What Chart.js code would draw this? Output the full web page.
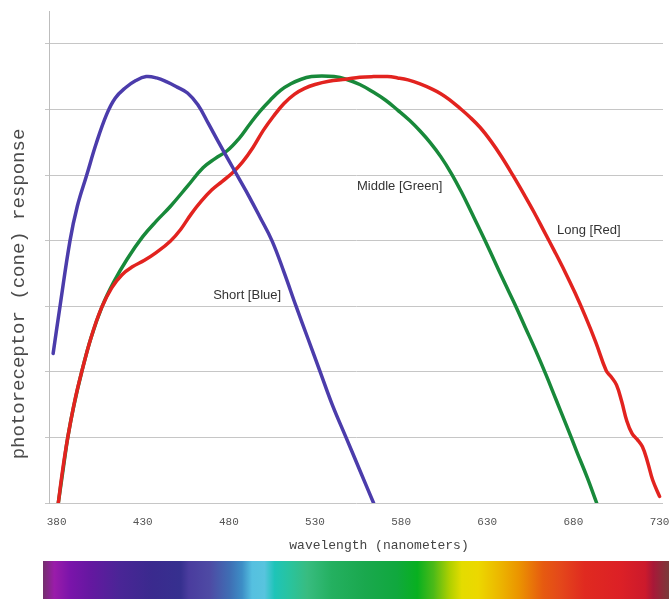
<!DOCTYPE html>
<html><head><meta charset="utf-8">
<script src="https://cdn.jsdelivr.net/npm/chart.js@4/dist/chart.umd.min.js"></script>
<style>html,body{margin:0;padding:0;background:#fff;overflow:hidden}</style>
</head><body>
<canvas id="c" width="669" height="599"></canvas>
<script>
// ---- data ----
const xTickLabels = [380, 430, 480, 530, 580, 630, 680, 730];
const yGridValues = [0, 1, 2, 3, 4, 5, 6, 7];
const xTitle = 'wavelength (nanometers)';
const yTitle = 'photoreceptor (cone) response';

const shortNm   = [378,382,387.8,392,397.5,403,409,414,420,426,432,438,444,450,456,462,468,474,480,486,492,498,505,512,519,526,533,540,548,556,564];
const shortResp = [2.28,3.0,4.0,4.52,5.0,5.48,5.92,6.17,6.33,6.44,6.50,6.48,6.42,6.34,6.25,6.07,5.79,5.50,5.22,4.94,4.66,4.36,4.0,3.52,3.0,2.50,2.0,1.50,1.0,0.50,0];

const middleNm   = [381,384,386.5,390,394.6,400,406.5,413,421,430,438,446,456,465,472,479,486,492,498,504,510,516,522,528,534,541,548,556,564,571,578,585,591,597,603,609,615,621,628,634,640,646,652,658,664,670,676,682,688,693.5];
const middleResp = [0,0.55,1.0,1.48,2.0,2.52,3.0,3.36,3.72,4.06,4.30,4.52,4.83,5.11,5.25,5.37,5.56,5.77,5.97,6.14,6.29,6.39,6.46,6.50,6.51,6.50,6.46,6.38,6.26,6.14,5.99,5.83,5.67,5.49,5.28,5.03,4.74,4.42,4.04,3.70,3.36,3.03,2.68,2.33,1.96,1.57,1.18,0.78,0.39,0];

const longNm   = [381,383.5,386.5,390.5,394.6,400,406,412,418,424,431,438,446,452,458,464,470,476,482,488,494,500,506,512,518,524,530,538,548,556,564,572,578,584,591,598,603,608,614,620,626,632,638,645,651,657,663,669,675,681,687,693,699,702,705,708,711,714,717,720,723,726,730];
const longResp = [0,0.5,1.0,1.55,2.0,2.52,2.97,3.28,3.48,3.60,3.70,3.82,3.99,4.17,4.40,4.60,4.77,4.90,5.03,5.20,5.42,5.68,5.90,6.09,6.23,6.32,6.38,6.43,6.46,6.49,6.50,6.50,6.48,6.45,6.39,6.31,6.24,6.15,6.02,5.88,5.72,5.52,5.29,4.99,4.72,4.44,4.14,3.84,3.53,3.20,2.84,2.45,2.02,1.92,1.80,1.55,1.25,1.06,0.97,0.86,0.63,0.35,0.10];

const seriesNames = ['Short [Blue]', 'Middle [Green]', 'Long [Red]'];
const labelNm   = [470.9, 554.4, 670.5];
const labelResp = [3.17, 4.83, 4.15];

const spectrumStops = [
  [0.000,'#74306c'],[0.018,'#9a1caa'],[0.044,'#7a14aa'],[0.077,'#6418a0'],[0.122,'#4a2596'],
  [0.174,'#3a2a8e'],[0.220,'#36308f'],[0.233,'#4a3c9e'],[0.266,'#4e4aa4'],[0.298,'#3f6eb4'],
  [0.318,'#3d8ec6'],[0.334,'#55c0e0'],[0.354,'#58c4de'],[0.370,'#1ec4b8'],[0.396,'#2ac39c'],
  [0.422,'#38bc80'],[0.461,'#24b060'],[0.513,'#1aa84e'],[0.565,'#10a83e'],[0.598,'#08b020'],
  [0.624,'#4cba18'],[0.650,'#b0d000'],[0.669,'#e4dc00'],[0.695,'#ecd800'],[0.728,'#ecb800'],
  [0.760,'#eb9400'],[0.799,'#e65a10'],[0.826,'#e4481a'],[0.865,'#e02a20'],[0.923,'#dc2026'],
  [0.962,'#cc1a2c'],[0.975,'#a81838'],[1.000,'#7a3a3a']
];

const toPts = (xs, ys) => xs.map((v, i) => ({x: v, y: ys[i]}));

const decor = {
  id: 'decor',
  afterDraw(chart) {
    const {ctx, scales: {x, y}, chartArea} = chart;
    ctx.save();
    ctx.font = '13px "Liberation Sans", Arial, sans-serif';
    ctx.fillStyle = '#333';
    ctx.textAlign = 'left';
    ctx.textBaseline = 'middle';
    seriesNames.forEach((t, i) => {
      ctx.fillText(t, x.getPixelForValue(labelNm[i]), y.getPixelForValue(labelResp[i]));
    });
    ctx.font = '13px "Liberation Mono", "Courier New", monospace';
    ctx.fillStyle = '#444';
    ctx.textAlign = 'center';
    ctx.fillText(xTitle, 379, 546);
    ctx.save();
    ctx.font = '19px "Liberation Mono", "Courier New", monospace';
    ctx.fillStyle = '#4a4a4a';
    ctx.translate(19, 294);
    ctx.rotate(-Math.PI / 2);
    ctx.textAlign = 'center';
    ctx.textBaseline = 'middle';
    ctx.fillText(yTitle, 0, 0);
    ctx.restore();
    const x0 = chartArea.left - 6, x1 = chart.width, y0 = 561, y1 = chart.height;
    const g = ctx.createLinearGradient(x0, 0, x1, 0);
    spectrumStops.forEach(s => g.addColorStop(s[0], s[1]));
    ctx.fillStyle = g;
    ctx.fillRect(x0, y0, x1 - x0, y1 - y0);
    ctx.restore();
  }
};

new Chart(document.getElementById('c'), {
  type: 'line',
  data: {
    datasets: [
      {label: seriesNames[0], data: toPts(shortNm, shortResp), borderColor: '#4b3cab'},
      {label: seriesNames[2], data: toPts(longNm, longResp), borderColor: '#e2231f'},
      {label: seriesNames[1], data: toPts(middleNm, middleResp), borderColor: '#18893a'}
    ].map(d => Object.assign(d, {borderWidth: 3.5, pointRadius: 0, fill: false,
      tension: 0.4, borderCapStyle: 'round', borderJoinStyle: 'round'}))
  },
  options: {
    responsive: false,
    animation: false,
    devicePixelRatio: 1,
    layout: {padding: {top: 11, right: 6, bottom: 39, left: 0}},
    plugins: {legend: {display: false}, tooltip: {enabled: false}},
    scales: {
      x: {
        type: 'linear', min: 375.6, max: 732,
        afterBuildTicks: s => { s.ticks = xTickLabels.map(v => ({value: v})); },
        afterFit: s => { s.height = 57; s.paddingLeft = 0; s.paddingRight = 0; },
        grid: {display: false, drawTicks: false},
        border: {display: false},
        ticks: {
          color: '#555', padding: 12, maxRotation: 0, autoSkip: false,
          font: {family: '"Liberation Mono", "Courier New", monospace', size: 11},
          callback: v => String(v)
        }
      },
      y: {
        min: 0, max: 7.5,
        afterBuildTicks: s => { s.ticks = yGridValues.map(v => ({value: v})); },
        afterFit: s => { s.width = 49; },
        grid: {color: '#c6c6c6', lineWidth: 1, tickLength: 4, drawTicks: true},
        border: {display: true, color: '#bdbdbd', width: 1},
        ticks: {display: false}
      }
    }
  },
  plugins: [decor]
});
</script>
</body></html>
